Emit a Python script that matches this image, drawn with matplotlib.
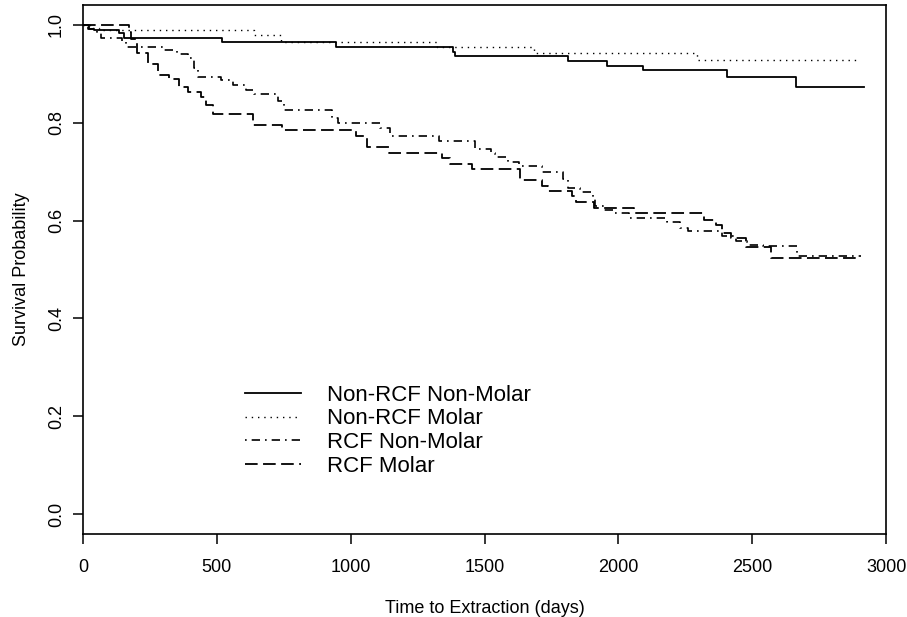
import matplotlib
matplotlib.use("Agg")
import matplotlib.pyplot as plt

plt.rcParams["font.family"] = ["Liberation Sans", "DejaVu Sans"]

labels = ["Non-RCF Non-Molar", "Non-RCF Molar", "RCF Non-Molar", "RCF Molar"]

# Kaplan-Meier step curves (days, survival)
t_nonrcf_nonmolar = [0, 22, 41, 135, 154, 519, 946, 1383, 1390, 1813, 1959, 2092, 2404, 2663, 2917]
s_nonrcf_nonmolar = [1.0, 0.992, 0.988, 0.982, 0.973, 0.964, 0.955, 0.945, 0.936, 0.926, 0.916, 0.907, 0.894, 0.872, 0.872]

t_nonrcf_molar = [0, 30, 60, 640, 740, 1321, 1683, 2292, 2894]
s_nonrcf_molar = [1.0, 0.994, 0.988, 0.979, 0.965, 0.955, 0.943, 0.928, 0.928]

t_rcf_nonmolar = [0, 19, 54, 66, 147, 160, 303, 353, 391, 416, 428, 516, 559, 609, 640,
                  728, 750, 930, 952, 1109, 1146, 1330, 1464, 1524, 1539, 1589, 1630,
                  1714, 1792, 1811, 1855, 1907, 1914, 1948, 1982, 2039, 2182, 2232,
                  2260, 2388, 2438, 2480, 2540, 2669, 2906]
s_rcf_nonmolar = [1.0, 0.992, 0.982, 0.973, 0.965, 0.955, 0.948, 0.939, 0.931, 0.911, 0.893,
                  0.887, 0.877, 0.866, 0.858, 0.843, 0.826, 0.809, 0.799, 0.789, 0.773,
                  0.763, 0.746, 0.738, 0.730, 0.720, 0.712, 0.700, 0.685, 0.667, 0.658,
                  0.643, 0.629, 0.622, 0.615, 0.606, 0.596, 0.585, 0.578, 0.568, 0.558,
                  0.551, 0.547, 0.528, 0.528]

t_rcf_molar = [0, 172, 179, 203, 241, 282, 322, 360, 391, 441, 460, 484, 634, 742, 1021,
               1060, 1143, 1340, 1371, 1452, 1633, 1714, 1739, 1826, 1843, 1910, 2060,
               2319, 2363, 2388, 2420, 2475, 2569, 2894]
s_rcf_molar = [1.0, 0.985, 0.970, 0.943, 0.920, 0.897, 0.888, 0.873, 0.863, 0.853, 0.836,
               0.818, 0.795, 0.784, 0.772, 0.751, 0.738, 0.728, 0.716, 0.705, 0.683,
               0.670, 0.660, 0.650, 0.637, 0.626, 0.615, 0.602, 0.590, 0.575, 0.565,
               0.545, 0.524, 0.524]

fig = plt.figure(figsize=(9.07, 6.17), dpi=100)
ax = fig.add_axes([0.0915, 0.1345, 0.8854, 0.8574])

ax.step(t_nonrcf_nonmolar, s_nonrcf_nonmolar, where="post", color="black", lw=1.3,
        linestyle="-", label=labels[0])
ax.step(t_nonrcf_molar, s_nonrcf_molar, where="post", color="black", lw=1.0,
        linestyle=(0, (1, 3.5)), label=labels[1])
ax.step(t_rcf_nonmolar, s_rcf_nonmolar, where="post", color="black", lw=1.2,
        linestyle=(0, (1, 3, 5, 3)), label=labels[2])
ax.step(t_rcf_molar, s_rcf_molar, where="post", color="black", lw=1.3,
        linestyle=(0, (7, 3)), label=labels[3])

ax.set_xlim(0, 3000)
ax.set_ylim(-0.04, 1.04)
ax.set_xticks([0, 500, 1000, 1500, 2000, 2500, 3000])
ax.set_yticks([0.0, 0.2, 0.4, 0.6, 0.8, 1.0])
ax.set_yticklabels(["0.0", "0.2", "0.4", "0.6", "0.8", "1.0"], rotation=90, va="center")
ax.tick_params(axis="both", direction="out", length=7, width=1.1, labelsize=13)
ax.tick_params(axis="x", pad=11)
ax.tick_params(axis="y", pad=6)
for sp in ax.spines.values():
    sp.set_linewidth(1.2)

ax.set_xlabel("Time to Extraction (days)", fontsize=13, labelpad=17)
ax.set_ylabel("Survival Probability", fontsize=13, labelpad=13)

ax.legend(loc="upper left", bbox_to_anchor=(0.2017, 0.282), frameon=False,
          fontsize=16, handlelength=2.5, handletextpad=1.2, labelspacing=0.12,
          borderpad=0, borderaxespad=0)

fig.savefig("out.png", dpi=100)
